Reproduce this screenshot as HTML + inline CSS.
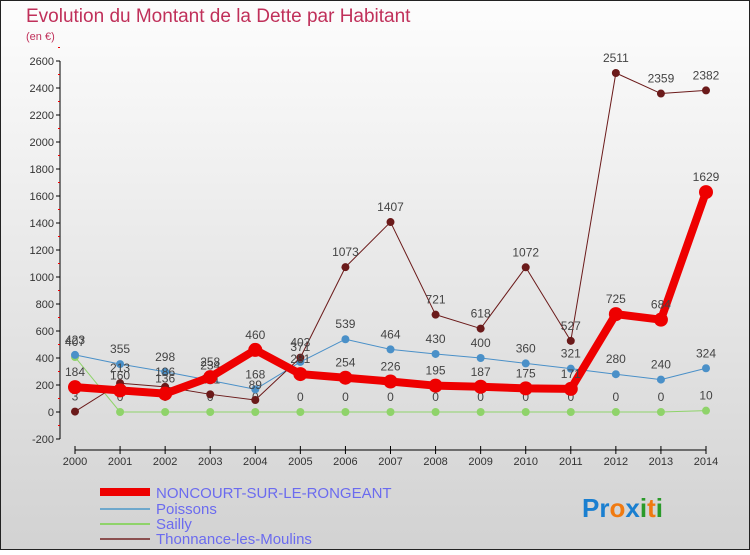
<!DOCTYPE html>
<html><head><meta charset="utf-8"><style>
body{margin:0;width:750px;height:550px;overflow:hidden;font-family:"Liberation Sans",sans-serif}
</style></head><body>
<svg id="chart" width="750" height="550" xmlns="http://www.w3.org/2000/svg">
<defs><linearGradient id="bg" x1="0" y1="0" x2="0" y2="1"><stop offset="0" stop-color="#fdfdfd"/><stop offset="1" stop-color="#d2d2d2"/></linearGradient></defs>
<rect x="0.5" y="0.5" width="749" height="549" fill="url(#bg)" stroke="#222"/>
<text x="26" y="22" font-size="19" fill="#c0305a">Evolution du Montant de la Dette par Habitant</text>
<text x="26" y="40" font-size="11" fill="#c0305a">(en €)</text>
<g id="axes"></g><g id="series"></g>
<g>
<rect x="100" y="488" width="50" height="8" fill="#e00"/>
<text x="156" y="498" font-size="15" fill="#6b6bef">NONCOURT-SUR-LE-RONGEANT</text>
<rect x="100" y="508" width="50" height="2" fill="#6fa8cc"/>
<text x="156" y="514" font-size="15" fill="#6b6bef">Poissons</text>
<rect x="100" y="523" width="50" height="2" fill="#8fd36a"/>
<text x="156" y="529" font-size="15" fill="#6b6bef">Sailly</text>
<rect x="100" y="538" width="50" height="2" fill="#8b5050"/>
<text x="156" y="544" font-size="15" fill="#6b6bef">Thonnance-les-Moulins</text>
</g>
<text x="582" y="517" font-size="26" font-weight="bold"><tspan fill="#1a7fd0">Pr</tspan><tspan fill="#f07a10">o</tspan><tspan fill="#1a7fd0">x</tspan><tspan fill="#2a9a2a">i</tspan><tspan fill="#f07a10">t</tspan><tspan fill="#2a9a2a">i</tspan></text>
</svg>
<script>
const years=[2000,2001,2002,2003,2004,2005,2006,2007,2008,2009,2010,2011,2012,2013,2014];
const yTicks=[-200,0,200,400,600,800,1000,1200,1400,1600,1800,2000,2200,2400,2600];
const noncourt=[184,160,136,258,460,281,254,226,195,187,175,171,725,684,1629];
const poissons=[423,355,298,234,168,371,539,464,430,400,360,321,280,240,324];
const sailly=[407,0,0,0,0,0,0,0,0,0,0,0,0,0,10];
const thonnance=[3,213,186,131,89,403,1073,1407,721,618,1072,527,2511,2359,2382];
const NS="http://www.w3.org/2000/svg";
const x=i=>75+i*(706-75)/(years.length-1);
const y=v=>412-v*0.135;
function mk(t,a,p){const e=document.createElementNS(NS,t);for(const k in a)e.setAttribute(k,a[k]);p.appendChild(e);return e;}
const ax=document.getElementById('axes');
let e=mk('line',{x1:60,y1:y(2600),x2:60,y2:y(-200),stroke:'#000'},ax);


yTicks.forEach(v=>{mk('line',{x1:56,y1:y(v),x2:60,y2:y(v),stroke:'#000'},ax);
 mk('line',{x1:58,y1:y(v+100),x2:60,y2:y(v+100),stroke:'#e00'},ax);
 const t=mk('text',{x:54,y:y(v)+4,'font-size':11,fill:'#333','text-anchor':'end'},ax);t.textContent=v;
 
 });
e=mk('line',{x1:75,y1:450,x2:706,y2:450,stroke:'#000'},ax);


years.forEach((yr,i)=>{mk('line',{x1:x(i),y1:446,x2:x(i),y2:454,stroke:'#000'},ax);
 const t=mk('text',{x:x(i),y:465,'font-size':11,fill:'#333','text-anchor':'middle'},ax);t.textContent=yr;
 
 });
const sg=document.getElementById('series');
function draw(data,color,w,r,name){
 const g=mk('g',{},sg);
 
 
 mk('polyline',{points:data.map((v,i)=>x(i)+','+y(v)).join(' '),fill:'none',stroke:color,'stroke-width':w,'stroke-linejoin':'round'},g);
 data.forEach((v,i)=>{const c=mk('circle',{cx:x(i),cy:y(v),r:r,fill:color},g);
  
  
  const t=mk('text',{x:x(i),y:y(v)-11,'font-size':12,fill:'#444','text-anchor':'middle'},g);t.textContent=v;
  
  });
}
draw(sailly,'#8fd36a',1,4,'sailly-series');
draw(poissons,'#4a90c8',1,4,'poissons-series');
draw(thonnance,'#6b1a1a',1,4,'thonnance-series');
draw(noncourt,'#ee0000',8,7,'noncourt-series');
</script>
</body></html>
